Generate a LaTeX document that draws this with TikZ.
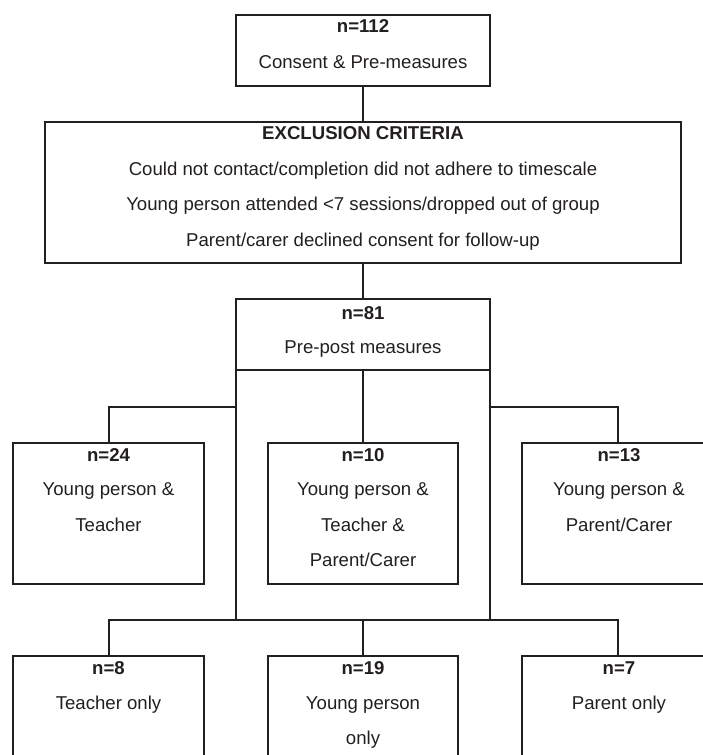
\documentclass[tikz,border=0pt]{standalone}
\usepackage{fontspec}
\setmainfont{Liberation Sans}
\definecolor{ink}{HTML}{231F20}
\begin{document}
\begin{tikzpicture}[x=1pt,y=-1pt,
  box/.style={draw=ink,line width=2pt,inner sep=0pt,outer sep=0pt},
  conn/.style={draw=ink,line width=2pt},
  txt/.style={anchor=base,text=ink,inner sep=0pt,font=\fontsize{18.6}{22}\selectfont},
  hd/.style={anchor=base,text=ink,inner sep=0pt,font=\fontsize{18.6}{22}\selectfont\bfseries}]
\useasboundingbox (0,0) rectangle (703,755);
% boxes
\node[box,minimum width=254pt,minimum height=71pt]  (top) at (363,50.5) {};
\node[box,minimum width=636pt,minimum height=141pt] (exc) at (363,192.5) {};
\node[box,minimum width=254pt,minimum height=71pt]  (pp)  at (363,334.5) {};
\node[box,minimum width=191pt,minimum height=141pt] (l1)  at (108.5,513.5) {};
\node[box,minimum width=190pt,minimum height=141pt] (m1)  at (363,513.5) {};
\node[box,minimum width=191pt,minimum height=141pt] (r1)  at (617.5,513.5) {};
\node[box,minimum width=191pt,minimum height=144pt] (l2)  at (108.5,728) {};
\node[box,minimum width=190pt,minimum height=144pt] (m2)  at (363,728) {};
\node[box,minimum width=191pt,minimum height=144pt] (r2)  at (617.5,728) {};
% junctions
\coordinate (jl) at (236,407);
\coordinate (jr) at (490,407);
\coordinate (bl) at (236,620);
\coordinate (br) at (490,620);
% connectors
\draw[conn] (top.south) -- (exc.north);
\draw[conn] (exc.south) -- (pp.north);
\draw[conn] (pp.south) -- (m1.north);
\draw[conn] (pp.south west) -- (bl);
\draw[conn] (pp.south east) -- (br);
\draw[conn] (l1.north) |- (jl);
\draw[conn] (r1.north) |- (jr);
\draw[conn] (l2.north) |- (bl) -- (br) -| (r2.north);
\draw[conn] (m2.north) -- (m2.north |- bl);
% texts
\node[hd]  (t1) at (363,32.6) {n=112};
\node[txt] (t2) at (363,68.6) {Consent \& Pre-measures};
\node[hd]  (e1) at (363,139.6) {EXCLUSION CRITERIA};
\node[txt] (e2) at (363,175.6) {Could not contact/completion did not adhere to timescale};
\node[txt] (e3) at (363,210.6) {Young person attended <7 sessions/dropped out of group};
\node[txt] (e4) at (363,246.6) {Parent/carer declined consent for follow-up};
\node[hd]  (p1) at (363,319.6) {n=81};
\node[txt] (p2) at (363,353.6) {Pre-post measures};
\node[hd]  (a1) at (108.5,461.6) {n=24};
\node[txt] (a2) at (108.5,495.6) {Young person \&};
\node[txt] (a3) at (108.5,531.6) {Teacher};
\node[hd]  (b1) at (363,461.6) {n=10};
\node[txt] (b2) at (363,495.6) {Young person \&};
\node[txt] (b3) at (363,531.6) {Teacher \&};
\node[txt] (b4) at (363,566.6) {Parent/Carer};
\node[hd]  (c1) at (619,461.6) {n=13};
\node[txt] (c2) at (619,495.6) {Young person \&};
\node[txt] (c3) at (619,531.6) {Parent/Carer};
\node[hd]  (d1) at (108.5,674.6) {n=8};
\node[txt] (d2) at (108.5,709.6) {Teacher only};
\node[hd]  (f1) at (363,674.6) {n=19};
\node[txt] (f2) at (363,709.6) {Young person};
\node[txt] (f3) at (363,744.6) {only};
\node[hd]  (g1) at (619,674.6) {n=7};
\node[txt] (g2) at (619,709.6) {Parent only};
\end{tikzpicture}
\end{document}
